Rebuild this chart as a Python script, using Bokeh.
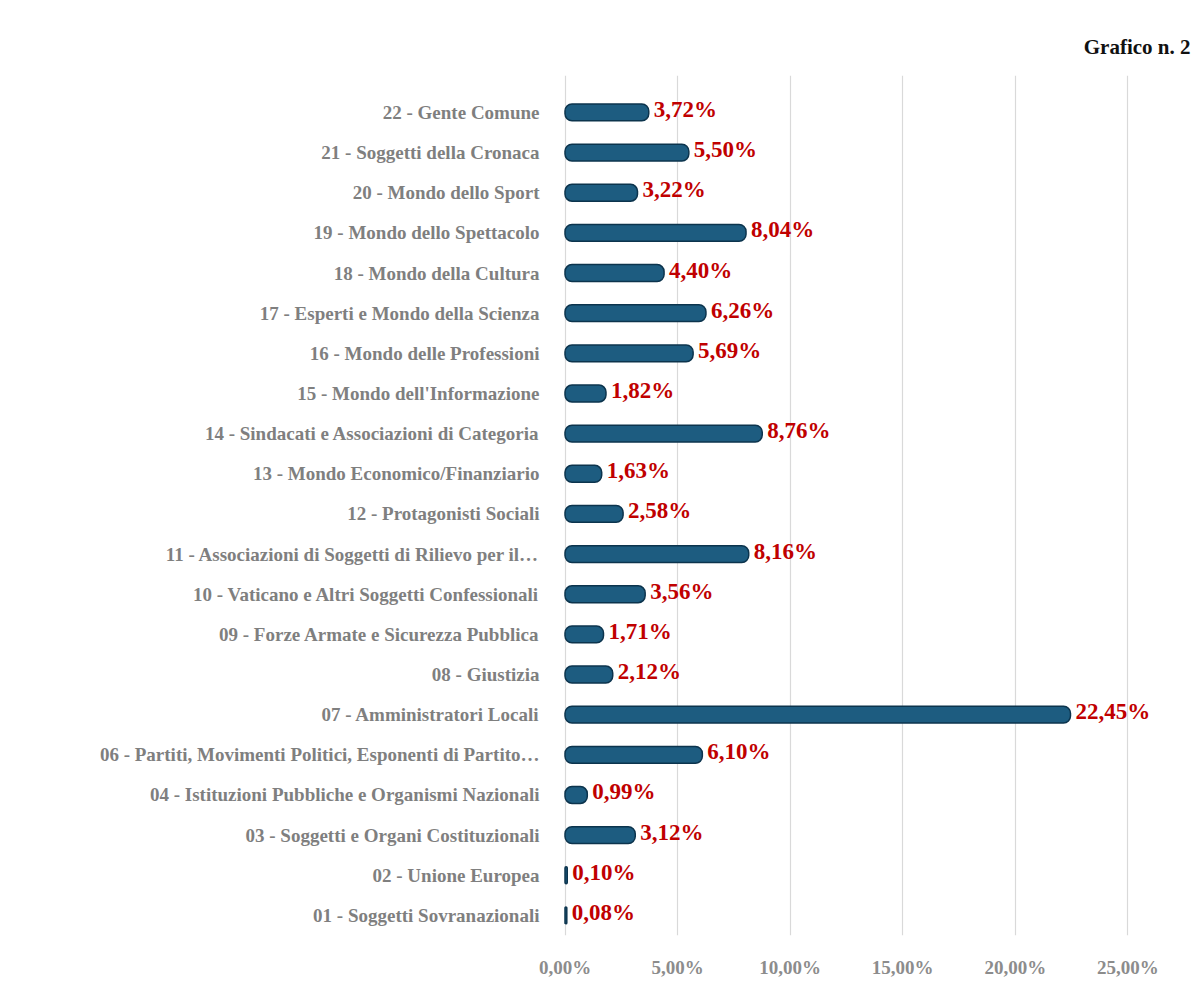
from bokeh.plotting import figure
from bokeh.models import ColumnDataSource, FixedTicker, CustomJSTickFormatter, Range1d, Title
from bokeh.core.properties import value
from bokeh.embed import file_html
from bokeh.resources import INLINE

categories = [
    "01 - Soggetti Sovranazionali",
    "02 - Unione Europea",
    "03 - Soggetti e Organi Costituzionali",
    "04 - Istituzioni Pubbliche e Organismi Nazionali",
    "06 - Partiti, Movimenti Politici, Esponenti di Partito\u2026",
    "07 - Amministratori Locali",
    "08 - Giustizia",
    "09 - Forze Armate e Sicurezza Pubblica",
    "10 - Vaticano e Altri Soggetti Confessionali",
    "11 - Associazioni di Soggetti di Rilievo per il\u2026",
    "12 - Protagonisti Sociali",
    "13 - Mondo Economico/Finanziario",
    "14 - Sindacati e Associazioni di Categoria",
    "15 - Mondo dell'Informazione",
    "16 - Mondo delle Professioni",
    "17 - Esperti e Mondo della Scienza",
    "18 - Mondo della Cultura",
    "19 - Mondo dello Spettacolo",
    "20 - Mondo dello Sport",
    "21 - Soggetti della Cronaca",
    "22 - Gente Comune",
]
percentages = [0.08, 0.10, 3.12, 0.99, 6.10, 22.45, 2.12, 1.71, 3.56, 8.16, 2.58,
               1.63, 8.76, 1.82, 5.69, 6.26, 4.40, 8.04, 3.22, 5.50, 3.72]
x_ticks = [0, 5, 10, 15, 20, 25]
title_text = "Grafico n. 2"

rows = list(range(len(categories)))
labels = [f"{v:.2f}".replace(".", ",") + "%" for v in percentages]
src = ColumnDataSource(dict(y=rows, x=percentages, cat=categories, lab=labels))

p = figure(width=1202, height=988, output_backend="svg", toolbar_location=None,
           x_range=Range1d(-0.2, 27.78), y_range=Range1d(-0.5, 20.92),
           min_border_left=560, min_border_right=12, min_border_top=75, min_border_bottom=53)
p.outline_line_color = None
p.background_fill_color = "white"
p.border_fill_color = "white"

p.title = Title(text=title_text, align="right", text_font="Liberation Serif",
                text_font_size="21px", text_font_style="bold", text_color="#111111",
                standoff=33)

p.hbar(y="y", left=0, right="x", height=0.42, source=src,
       fill_color="#1d5c80", line_color="#0c344d", line_width=1.5, border_radius=7)

p.text(x="x", y="y", text="lab", source=src, x_offset=5, y_offset=-3,
       text_font=value("Liberation Serif"), text_font_style="bold",
       text_font_size="23px", text_color="#c00000",
       text_align="left", text_baseline="middle")

p.xgrid.ticker = FixedTicker(ticks=x_ticks)
p.xgrid.grid_line_color = "#d9d9d9"
p.xgrid.grid_line_width = 1.2
p.ygrid.grid_line_color = None

p.xaxis.ticker = FixedTicker(ticks=x_ticks)
p.xaxis.formatter = CustomJSTickFormatter(code="return tick.toFixed(2).replace('.', ',') + '%';")
p.xaxis.axis_line_color = None
p.xaxis.major_tick_line_color = None
p.xaxis.minor_tick_line_color = None
p.xaxis.major_label_standoff = 15
p.xaxis.major_label_text_font = "Liberation Serif"
p.xaxis.major_label_text_font_style = "bold"
p.xaxis.major_label_text_font_size = "19px"
p.xaxis.major_label_text_color = "#8c8c8c"

p.yaxis.ticker = FixedTicker(ticks=rows)
p.yaxis.major_label_overrides = {i: c for i, c in zip(rows, categories)}
p.yaxis.axis_line_color = None
p.yaxis.major_tick_line_color = None
p.yaxis.minor_tick_line_color = None
p.yaxis.major_label_standoff = 15
p.yaxis.major_label_text_font = "Liberation Serif"
p.yaxis.major_label_text_font_style = "bold"
p.yaxis.major_label_text_font_size = "19px"
p.yaxis.major_label_text_color = "#7f7f7f"

open("out.html", "w").write(file_html(p, INLINE))
